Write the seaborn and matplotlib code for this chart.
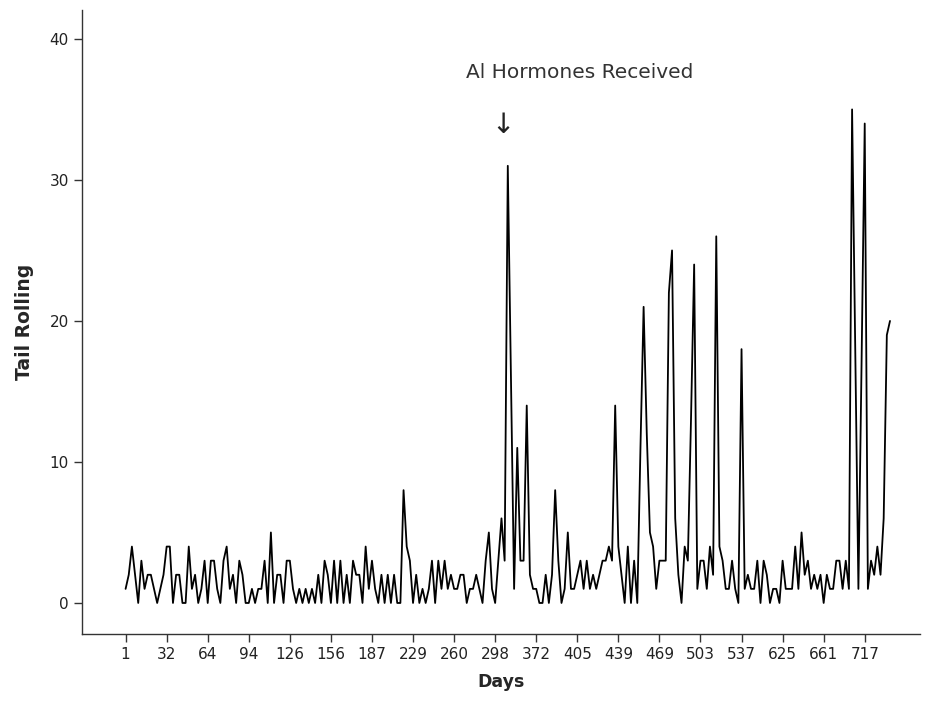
import numpy as np
import pandas as pd
import matplotlib
matplotlib.use("Agg")
import matplotlib.pyplot as plt
import seaborn as sns

# ---- data ----
tail_rolling = [
    1, 2, 4, 2, 0, 3, 1, 2, 2, 1, 0, 1, 2,
    4, 4, 0, 2, 2, 0, 0, 4, 1, 2, 0, 1, 3,
    0, 3, 3, 1, 0, 3, 4, 1, 2, 0, 3, 2, 0,
    0, 1, 0, 1, 1, 3, 0, 5, 0, 2, 2, 0, 3,
    3, 1, 0, 1, 0, 1, 0, 1, 0, 2, 0, 3, 2,
    0, 3, 0, 3, 0, 2, 0, 3, 2, 2, 0, 4, 1,
    3, 1, 0, 2, 0, 2, 0, 2, 0, 0, 8, 4, 3,
    0, 2, 0, 1, 0, 1, 3, 0, 3, 1, 3, 1, 2,
    1, 1, 2, 2, 0, 1, 1, 2, 1, 0, 3, 5, 1,
    0, 3, 6, 3, 31, 16, 1, 11, 3, 3, 14, 2, 1,
    1, 0, 0, 2, 0, 2, 8, 3, 0, 1, 5, 1, 1,
    2, 3, 1, 3, 1, 2, 1, 2, 3, 3, 4, 3, 14,
    4, 2, 0, 4, 0, 3, 0, 11, 21, 12, 5, 4, 1,
    3, 3, 3, 22, 25, 6, 2, 0, 4, 3, 13, 24, 1,
    3, 3, 1, 4, 2, 26, 4, 3, 1, 1, 3, 1, 0,
    18, 1, 2, 1, 1, 3, 0, 3, 2, 0, 1, 1, 0,
    3, 1, 1, 1, 4, 1, 5, 2, 3, 1, 2, 1, 2,
    0, 2, 1, 1, 3, 3, 1, 3, 1, 35, 18, 1, 17,
    34, 1, 3, 2, 4, 2, 6, 19, 20,
]
day_tick_labels = ["1", "32", "64", "94", "126", "156", "187", "229", "260",
                   "298", "372", "405", "439", "469", "503", "537", "625",
                   "661", "717"]
tick_every = 13
y_ticks = [0, 10, 20, 30, 40]

df = pd.DataFrame({"obs": np.arange(len(tail_rolling)), "Tail Rolling": tail_rolling})

sns.set_style("ticks")
plt.rcParams["font.family"] = ["DejaVu Sans"]

fig = plt.figure(figsize=(9.26, 7.13), dpi=100)
ax = fig.add_axes([82 / 926, 1 - 634 / 713, (920 - 82) / 926, (634 - 10) / 713])

sns.lineplot(data=df, x="obs", y="Tail Rolling", color="black", linewidth=1.3, ax=ax)

ax.set_xlim(-13.8, 251.5)
ax.set_ylim(-2.2, 42.05)

ax.set_xticks([i * tick_every for i in range(len(day_tick_labels))])
ax.set_xticklabels(day_tick_labels)
ax.set_yticks(y_ticks)
ax.tick_params(axis="both", labelsize=11, length=6, width=1, color="#333333", labelcolor="#222222")

for s in ["top", "right"]:
    ax.spines[s].set_visible(False)
for s in ["left", "bottom"]:
    ax.spines[s].set_color("#333333")
    ax.spines[s].set_linewidth(1)

ax.set_xlabel("Days", fontsize=12.5, fontweight="bold", labelpad=8)
ax.set_ylabel("Tail Rolling", fontsize=13.5, fontweight="bold", labelpad=11)

ax.text(143.9, 37.6, "Al Hormones Received", fontsize=14.5, color="#333333",
        ha="center", va="center")
ax.text(119.5, 33.9, "\u2193", fontsize=20, color="#222222", ha="center", va="center")

fig.savefig("out.png", dpi=100)
